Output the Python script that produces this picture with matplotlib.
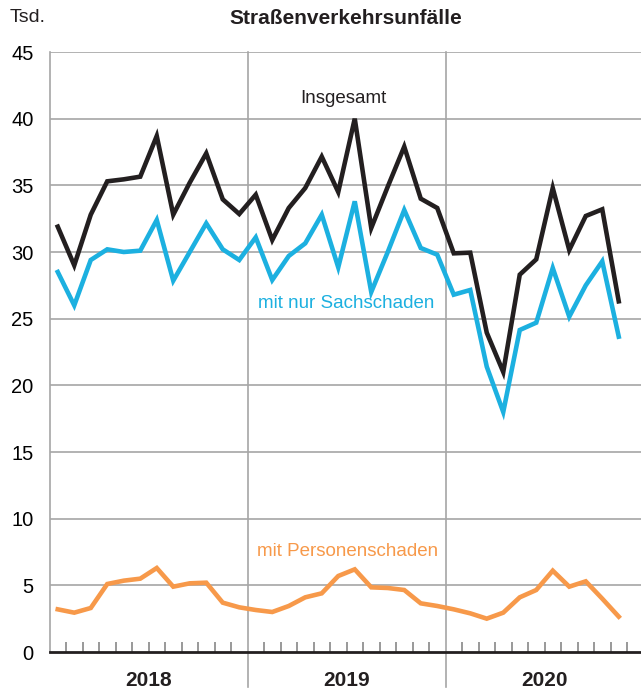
import numpy as np
import matplotlib
matplotlib.use('Agg')
import matplotlib.pyplot as plt

plt.rcParams['font.family'] = ['Liberation Sans', 'DejaVu Sans']

# monthly values, Jan 2018 - Nov 2020 (Tsd.)
insgesamt = [31.9, 29.0, 32.8, 35.3, 35.45, 35.65, 38.7, 32.8, 35.2, 37.4, 33.95, 32.85,
             34.3, 30.9, 33.3, 34.8, 37.15, 34.5, 40.0, 31.8, 34.9, 37.9, 34.0, 33.3,
             29.9, 29.95, 23.95, 21.0, 28.3, 29.45, 34.8, 30.15, 32.7, 33.2, 26.3]
sachschaden = [28.5, 26.0, 29.4, 30.2, 30.0, 30.1, 32.4, 27.85, 30.0, 32.15, 30.2, 29.4,
               31.1, 27.9, 29.7, 30.65, 32.8, 28.85, 33.8, 27.0, 30.0, 33.15, 30.3, 29.8,
               26.8, 27.15, 21.4, 18.0, 24.15, 24.7, 28.8, 25.15, 27.5, 29.3, 23.65]
personenschaden = [3.2, 2.95, 3.3, 5.1, 5.35, 5.5, 6.3, 4.9, 5.15, 5.2, 3.7, 3.35,
                   3.15, 3.0, 3.45, 4.1, 4.4, 5.7, 6.2, 4.85, 4.8, 4.65, 3.65, 3.45,
                   3.2, 2.9, 2.5, 2.95, 4.1, 4.65, 6.1, 4.9, 5.3, 4.0, 2.65]
years = ['2018', '2019', '2020']
yticks = [0, 5, 10, 15, 20, 25, 30, 35, 40, 45]

black = '#231f20'
blue = '#1cb0e0'
orange = '#f7994a'
grid = '#a6a6a6'

fig = plt.figure(figsize=(6.41, 6.93), dpi=100)
# axes spans 3 years of 198 px each, starting at x=49.5
ax = fig.add_axes([49.5 / 641, 41 / 693, 594 / 641, 600 / 693])

x = np.arange(len(insgesamt)) + 0.5
ax.plot(x, insgesamt, color=black, lw=3.3, solid_joinstyle='miter', zorder=3)
ax.plot(x, sachschaden, color=blue, lw=3.3, solid_joinstyle='miter', zorder=3)
ax.plot(x, personenschaden, color=orange, lw=3.3, solid_joinstyle='miter', zorder=3)

ax.set_xlim(0, 36)
ax.set_ylim(0, 45)

for v in yticks[1:]:
    ax.axhline(v, color=grid, lw=1.2, zorder=1)
for k in (12, 24):
    ax.axvline(k, ymin=-0.058, ymax=1, color=grid, lw=1.2, zorder=1, clip_on=False)

for s in ('top', 'right'):
    ax.spines[s].set_visible(False)
ax.spines['left'].set_color(grid)
ax.spines['left'].set_linewidth(1.2)
ax.spines['bottom'].set_color(black)
ax.spines['bottom'].set_linewidth(2)

ax.set_yticks(yticks)
ax.set_yticklabels([str(v) for v in yticks], fontsize=14.5)
ax.tick_params(axis='y', length=0, pad=11.5)

month_ticks = [m for m in range(1, 36) if m % 12 != 0]
ax.set_xticks(month_ticks)
ax.set_xticklabels([])
ax.tick_params(axis='x', direction='in', length=7, width=1.2, color='#888888')

for j, yr in enumerate(years):
    ax.text(12 * j + 6, -0.047, yr, transform=ax.get_xaxis_transform(),
            ha='center', va='center', fontsize=15, fontweight='bold', color=black)

ax.text(17.8, 41.5, 'Insgesamt', ha='center', va='center', fontsize=13.5, color=black)
ax.text(18.0, 26.1, 'mit nur Sachschaden', ha='center', va='center', fontsize=13.5, color=blue)
ax.text(18.05, 7.5, 'mit Personenschaden', ha='center', va='center', fontsize=13.5, color=orange)

fig.text(346 / 641, 1 - 18 / 693, 'Straßenverkehrsunfälle', ha='center', va='center',
         fontsize=15, fontweight='bold', color=black)
fig.text(10 / 641, 1 - 18 / 693, 'Tsd.', ha='left', va='center', fontsize=14, color=black)

fig.savefig('out.png', dpi=100)
